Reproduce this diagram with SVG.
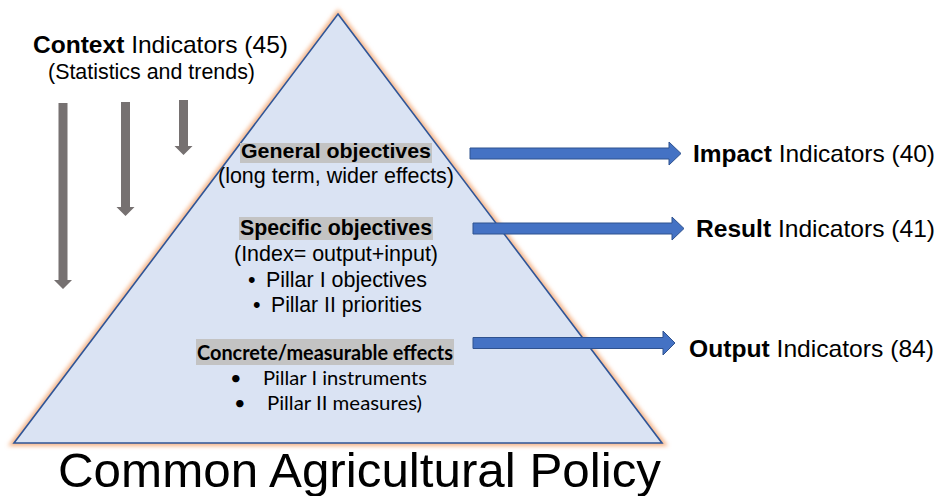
<svg xmlns="http://www.w3.org/2000/svg" width="938" height="496" viewBox="0 0 938 496">
  <defs>
    <filter id="glow" x="-10%" y="-10%" width="120%" height="120%">
      <feGaussianBlur stdDeviation="2.2"/>
    </filter>
    <style>
      .t { font-family: "Liberation Sans", Arial, Helvetica, sans-serif; fill: #000; }
      .c { font-family: Lato, "Liberation Sans", sans-serif; fill: #000; }
      .b { font-weight: bold; }
      .hl { fill: #c3c3c3; }
      .garrow { fill: #767171; }
      .barrow { fill: #4472c4; stroke: #2f528f; stroke-width: 1; }
    </style>
  </defs>
  <rect width="938" height="496" fill="#ffffff"/>

  <g id="pyramid">
    <polygon points="338,14 662,443 14,443" fill="none" stroke="#f4b183" stroke-width="6" filter="url(#glow)"/>
    <polygon points="338,14 662,443 14,443" fill="#dae3f3" stroke="#2f5597" stroke-width="1.6" stroke-linejoin="miter"/>
  </g>

  <g id="context">
    <text class="t" x="33" y="53" font-size="24" textLength="255" lengthAdjust="spacingAndGlyphs"><tspan class="b">Context</tspan> Indicators (45)</text>
    <text class="t" x="48" y="79" font-size="21.5" textLength="207" lengthAdjust="spacingAndGlyphs">(Statistics and trends)</text>
  </g>

  <g id="connectors">
    <polygon class="garrow" points="58.5,103 67.5,103 67.5,280 72,280 63,289 54,280 58.5,280"/>
    <polygon class="garrow" points="121,102 130,102 130,207 134.5,207 125.5,216 116.5,207 121,207"/>
    <polygon class="garrow" points="179,100 188,100 188,146 192.5,146 183.5,155 174.5,146 179,146"/>
    <polygon class="barrow" points="470,148 669,148 669,142 681,153.5 669,165 669,159 470,159"/>
    <polygon class="barrow" points="473,223 672,223 672,217 684,228.5 672,240 672,234 473,234"/>
    <polygon class="barrow" points="473,337.5 663,337.5 663,331 675,343 663,355 663,348.5 473,348.5"/>
  </g>

  <g id="general">
    <rect class="hl" x="240" y="143" width="192" height="20"/>
    <text class="t b" x="241" y="158" font-size="21" textLength="190" lengthAdjust="spacingAndGlyphs">General objectives</text>
    <text class="t" x="218" y="183" font-size="21.5" textLength="236" lengthAdjust="spacingAndGlyphs">(long term, wider effects)</text>
  </g>

  <g id="specific">
    <rect class="hl" x="239" y="217" width="194" height="23"/>
    <text class="t b" x="240" y="235" font-size="21.5" textLength="192" lengthAdjust="spacingAndGlyphs">Specific objectives</text>
    <text class="t" x="234" y="261" font-size="21.5" textLength="204" lengthAdjust="spacingAndGlyphs">(Index= output+input)</text>
    <text class="t" x="248" y="287" font-size="21.5">•</text>
    <text class="t" x="266" y="287" font-size="21.5" textLength="161" lengthAdjust="spacingAndGlyphs">Pillar I objectives</text>
    <text class="t" x="253" y="312" font-size="21.5">•</text>
    <text class="t" x="271" y="312" font-size="21.5" textLength="151" lengthAdjust="spacingAndGlyphs">Pillar II priorities</text>
  </g>

  <g id="concrete">
    <rect class="hl" x="196" y="339" width="258" height="26"/>
    <text class="c b" x="197" y="360" font-size="20" textLength="256" lengthAdjust="spacingAndGlyphs">Concrete/measurable effects</text>
    <text class="c" x="230" y="385" font-size="20">•</text>
    <text class="c" x="263" y="385" font-size="20" textLength="164" lengthAdjust="spacingAndGlyphs">Pillar I instruments</text>
    <text class="c" x="234" y="410" font-size="20">•</text>
    <text class="c" x="267" y="410" font-size="20" textLength="155" lengthAdjust="spacingAndGlyphs">Pillar II measures)</text>
  </g>

  <g id="impact">
    <text class="t" x="693" y="162" font-size="24" textLength="242" lengthAdjust="spacingAndGlyphs"><tspan class="b">Impact</tspan> Indicators (40)</text>
  </g>
  <g id="result">
    <text class="t" x="696" y="237" font-size="24" textLength="239" lengthAdjust="spacingAndGlyphs"><tspan class="b">Result</tspan> Indicators (41)</text>
  </g>
  <g id="output">
    <text class="t" x="689" y="357" font-size="24" textLength="245" lengthAdjust="spacingAndGlyphs"><tspan class="b">Output</tspan> Indicators (84)</text>
  </g>

  <g id="title">
    <text class="t" x="58" y="487" font-size="48" textLength="603" lengthAdjust="spacingAndGlyphs">Common Agricultural Policy</text>
  </g>
</svg>
